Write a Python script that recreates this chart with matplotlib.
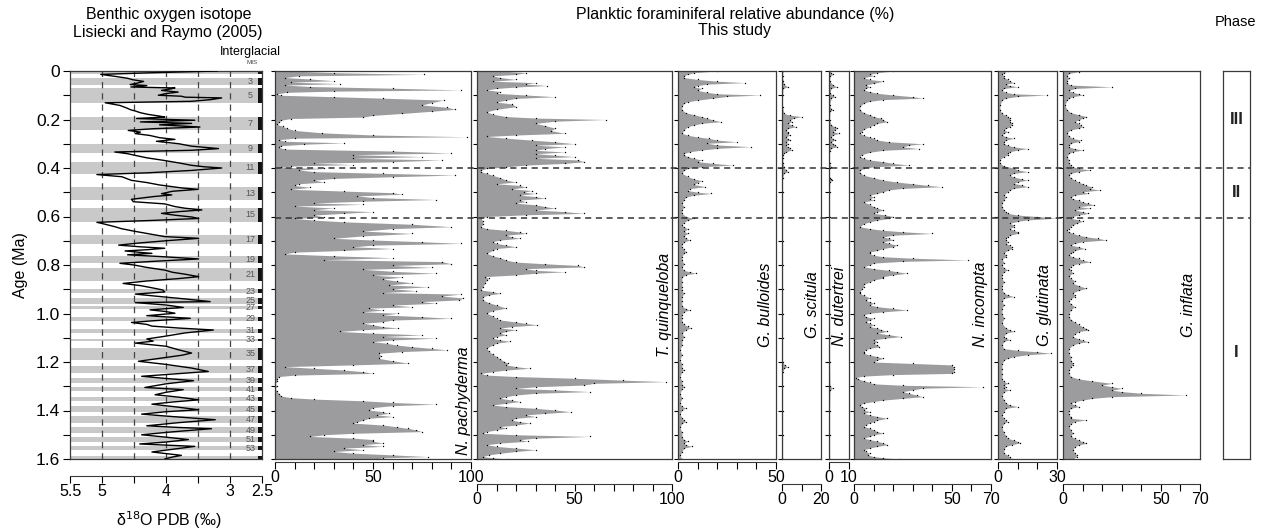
import numpy as np
import matplotlib.pyplot as plt
from matplotlib.lines import Line2D
from matplotlib.transforms import blended_transform_factory

plt.rcParams['font.family'] = ['Liberation Sans', 'DejaVu Sans']

# ---- data (age in Ma, value) ----
d18o = [
    [0.000, 3.20], [0.007, 4.20], [0.014, 5.02], [0.022, 4.80], [0.030, 4.60], [0.036, 4.52], [0.043, 4.35],
    [0.050, 4.45], [0.056, 4.56], [0.060, 4.30], [0.066, 4.55], [0.070, 3.86], [0.075, 3.95], [0.080, 4.07],
    [0.087, 3.81], [0.093, 4.00], [0.100, 4.12], [0.104, 3.76], [0.108, 3.70], [0.111, 3.13], [0.118, 3.30],
    [0.125, 3.60], [0.131, 4.95], [0.142, 4.72], [0.152, 4.62], [0.160, 4.55], [0.165, 4.48], [0.172, 4.40],
    [0.179, 4.28], [0.186, 4.10], [0.190, 4.02], [0.196, 4.46], [0.203, 3.55], [0.210, 4.40], [0.216, 3.60],
    [0.222, 4.10], [0.231, 3.47], [0.238, 4.20], [0.245, 4.59], [0.252, 4.40], [0.258, 4.48], [0.266, 4.25],
    [0.275, 4.10], [0.282, 3.86], [0.290, 4.15], [0.300, 3.80], [0.310, 3.60], [0.320, 3.18], [0.327, 3.60],
    [0.334, 4.80], [0.341, 4.60], [0.348, 4.48], [0.358, 4.30], [0.368, 4.05], [0.379, 3.80], [0.389, 3.60],
    [0.395, 3.40], [0.400, 3.13], [0.410, 3.60], [0.420, 4.30], [0.427, 5.08], [0.436, 4.69], [0.445, 4.60],
    [0.451, 4.54], [0.460, 4.30], [0.470, 4.10], [0.482, 3.76], [0.488, 3.50], [0.496, 3.90], [0.506, 4.07],
    [0.511, 3.91], [0.518, 4.20], [0.529, 4.54], [0.539, 4.51], [0.548, 4.02], [0.559, 3.86], [0.566, 3.70],
    [0.573, 3.44], [0.580, 3.80], [0.587, 4.07], [0.595, 3.85], [0.602, 3.60], [0.608, 3.49], [0.616, 4.20],
    [0.624, 5.08], [0.632, 4.95], [0.642, 4.80], [0.650, 4.70], [0.660, 4.51], [0.670, 4.30], [0.683, 4.02],
    [0.690, 3.49], [0.700, 4.00], [0.710, 4.45], [0.718, 4.74], [0.725, 4.40], [0.731, 4.02], [0.737, 4.30],
    [0.742, 4.64], [0.748, 4.40], [0.752, 4.22], [0.758, 4.60], [0.765, 4.10], [0.775, 3.49], [0.785, 4.20],
    [0.793, 4.72], [0.800, 4.50], [0.810, 4.30], [0.821, 4.02], [0.830, 3.90], [0.838, 3.70], [0.848, 3.49],
    [0.856, 3.80], [0.866, 4.30], [0.876, 4.67], [0.885, 4.40], [0.895, 4.20], [0.903, 4.05], [0.911, 4.02],
    [0.920, 4.48], [0.930, 4.10], [0.940, 3.70], [0.951, 3.31], [0.955, 4.48], [0.965, 4.00], [0.975, 3.73],
    [0.985, 4.25], [0.992, 4.00], [0.999, 3.86], [1.009, 4.30], [1.020, 3.62], [1.030, 4.20], [1.037, 4.54],
    [1.045, 4.30], [1.052, 4.22], [1.060, 3.80], [1.068, 3.26], [1.080, 3.70], [1.094, 4.02], [1.105, 4.30],
    [1.114, 4.20], [1.122, 4.48], [1.135, 4.00], [1.150, 3.80], [1.163, 3.60], [1.172, 3.75], [1.185, 4.10],
    [1.197, 4.43], [1.210, 4.00], [1.225, 3.60], [1.239, 3.34], [1.250, 3.90], [1.259, 4.38], [1.268, 4.00],
    [1.277, 3.57], [1.290, 4.00], [1.305, 4.33], [1.314, 3.73], [1.325, 4.00], [1.335, 4.17], [1.345, 3.80],
    [1.356, 3.49], [1.365, 3.90], [1.374, 4.22], [1.385, 3.85], [1.397, 3.49], [1.405, 4.00], [1.415, 4.38],
    [1.425, 3.90], [1.438, 3.23], [1.450, 3.80], [1.463, 4.30], [1.470, 3.80], [1.475, 3.29], [1.488, 3.90],
    [1.500, 4.38], [1.510, 4.00], [1.520, 3.65], [1.530, 4.00], [1.538, 4.41], [1.548, 3.55], [1.560, 3.90],
    [1.571, 4.22], [1.585, 3.76], [1.592, 3.90], [1.600, 4.02],
]

# interglacial marine isotope stages (odd numbers)
mis_num = [1, 3, 5, 7, 9, 11, 13, 15, 17, 19, 21, 23, 25, 27, 29, 31, 33, 35, 37, 39, 41, 43, 45, 47, 49, 51, 53, 55]
mis_start = [0.000, 0.029, 0.071, 0.191, 0.300, 0.374, 0.478, 0.563, 0.676, 0.761, 0.814, 0.900, 0.936, 0.970,
             1.014, 1.062, 1.104, 1.141, 1.215, 1.264, 1.304, 1.343, 1.383, 1.423, 1.469, 1.510, 1.548, 1.588]
mis_end = [0.014, 0.057, 0.130, 0.243, 0.337, 0.424, 0.533, 0.621, 0.712, 0.790, 0.866, 0.917, 0.959, 0.982,
           1.031, 1.081, 1.114, 1.190, 1.244, 1.286, 1.320, 1.362, 1.405, 1.452, 1.492, 1.530, 1.564, 1.612]

pachyderma = [
    [0.000, 8], [0.007, 30], [0.014, 76], [0.020, 12], [0.027, 5], [0.033, 18], [0.040, 30], [0.046, 8], [0.052, 33],
    [0.058, 5], [0.064, 18], [0.071, 60], [0.078, 95], [0.083, 30], [0.088, 6], [0.094, 1], [0.100, 3], [0.106, 30],
    [0.112, 55], [0.120, 86], [0.130, 80], [0.140, 75], [0.150, 88], [0.158, 92], [0.166, 80], [0.175, 65],
    [0.183, 50], [0.190, 45], [0.196, 8], [0.203, 3], [0.212, 2], [0.220, 1], [0.228, 4], [0.236, 6], [0.245, 10],
    [0.255, 24], [0.264, 50], [0.271, 98], [0.277, 10], [0.283, 2], [0.290, 5], [0.296, 35], [0.302, 15],
    [0.308, 3], [0.315, 2], [0.322, 5], [0.330, 60], [0.338, 90], [0.345, 40], [0.353, 75], [0.360, 40],
    [0.367, 85], [0.374, 60], [0.380, 20], [0.386, 40], [0.392, 8], [0.397, 3], [0.402, 25], [0.408, 12],
    [0.415, 20], [0.422, 55], [0.429, 92], [0.436, 60], [0.443, 30], [0.450, 20], [0.458, 25], [0.465, 12],
    [0.472, 10], [0.480, 18], [0.488, 8], [0.495, 35], [0.502, 60], [0.508, 65], [0.515, 42], [0.522, 50],
    [0.530, 82], [0.537, 45], [0.544, 20], [0.550, 45], [0.557, 10], [0.565, 30], [0.572, 20], [0.580, 50],
    [0.587, 35], [0.594, 20], [0.602, 25], [0.608, 10], [0.615, 20], [0.622, 35], [0.632, 70], [0.642, 90],
    [0.650, 60], [0.660, 45], [0.670, 70], [0.680, 45], [0.690, 30], [0.697, 50], [0.704, 75], [0.711, 95],
    [0.718, 50], [0.725, 40], [0.732, 60], [0.740, 35], [0.747, 10], [0.754, 5], [0.762, 30], [0.770, 60],
    [0.778, 25], [0.786, 85], [0.795, 90], [0.802, 60], [0.810, 80], [0.818, 45], [0.826, 60], [0.834, 82],
    [0.842, 50], [0.850, 65], [0.858, 55], [0.866, 62], [0.874, 70], [0.882, 58], [0.890, 78], [0.898, 60],
    [0.906, 72], [0.914, 55], [0.920, 95], [0.928, 85], [0.936, 96], [0.944, 94], [0.951, 75], [0.958, 82],
    [0.965, 60], [0.972, 70], [0.978, 48], [0.986, 55], [0.993, 45], [0.999, 63], [1.006, 55], [1.013, 75],
    [1.020, 90], [1.027, 60], [1.034, 55], [1.040, 45], [1.047, 50], [1.054, 55], [1.060, 63], [1.067, 45],
    [1.074, 33], [1.081, 50], [1.088, 75], [1.095, 55], [1.102, 82], [1.109, 60], [1.116, 50], [1.123, 57],
    [1.130, 62], [1.137, 70], [1.144, 80], [1.150, 88], [1.157, 65], [1.164, 53], [1.175, 54], [1.185, 53],
    [1.195, 60], [1.205, 68], [1.212, 40], [1.219, 5], [1.226, 20], [1.233, 35], [1.240, 45], [1.247, 50],
    [1.254, 10], [1.260, 2], [1.270, 1], [1.280, 1], [1.290, 0], [1.300, 1], [1.310, 0], [1.320, 1], [1.330, 2],
    [1.340, 3], [1.347, 8], [1.353, 20], [1.360, 45], [1.367, 60], [1.374, 82], [1.380, 60], [1.388, 50],
    [1.398, 48], [1.405, 55], [1.412, 58], [1.418, 52], [1.425, 60], [1.432, 48], [1.440, 45], [1.447, 42],
    [1.452, 40], [1.460, 55], [1.467, 62], [1.474, 68], [1.480, 72], [1.487, 75], [1.494, 40], [1.500, 25],
    [1.507, 18], [1.514, 40], [1.520, 50], [1.527, 50], [1.534, 55], [1.541, 45], [1.548, 55], [1.555, 35],
    [1.562, 45], [1.569, 30], [1.576, 40], [1.583, 60], [1.590, 78], [1.595, 55], [1.600, 52],
]

quinqueloba = [
    [0.000, 12], [0.007, 25], [0.014, 20], [0.020, 8], [0.027, 12], [0.035, 20], [0.042, 8], [0.048, 30],
    [0.054, 25], [0.060, 36], [0.066, 20], [0.072, 10], [0.078, 5], [0.085, 12], [0.092, 10], [0.099, 25],
    [0.106, 40], [0.113, 20], [0.120, 15], [0.128, 10], [0.136, 18], [0.147, 20], [0.158, 10], [0.168, 5],
    [0.178, 8], [0.188, 15], [0.194, 30], [0.200, 66], [0.207, 40], [0.216, 30], [0.225, 35], [0.236, 40],
    [0.246, 38], [0.257, 45], [0.264, 20], [0.270, 5], [0.277, 15], [0.285, 28], [0.292, 40], [0.300, 50],
    [0.306, 30], [0.313, 45], [0.320, 35], [0.327, 30], [0.334, 45], [0.341, 30], [0.347, 40], [0.353, 50],
    [0.360, 30], [0.367, 52], [0.374, 55], [0.381, 45], [0.388, 25], [0.395, 15], [0.402, 5], [0.409, 2],
    [0.415, 2], [0.422, 5], [0.430, 8], [0.440, 12], [0.450, 15], [0.458, 20], [0.465, 10], [0.472, 22],
    [0.479, 25], [0.486, 18], [0.493, 28], [0.500, 24], [0.505, 30], [0.512, 22], [0.518, 30], [0.525, 35],
    [0.532, 22], [0.539, 25], [0.545, 20], [0.552, 30], [0.559, 35], [0.566, 40], [0.573, 30], [0.580, 45],
    [0.587, 55], [0.593, 25], [0.600, 5], [0.607, 2], [0.620, 3], [0.632, 3], [0.642, 2], [0.650, 5],
    [0.657, 15], [0.664, 22], [0.670, 25], [0.677, 15], [0.684, 18], [0.690, 22], [0.697, 12], [0.704, 8],
    [0.711, 10], [0.718, 15], [0.725, 20], [0.732, 10], [0.740, 8], [0.752, 5], [0.762, 8], [0.770, 12],
    [0.780, 15], [0.788, 20], [0.795, 35], [0.802, 52], [0.808, 55], [0.815, 25], [0.822, 30], [0.828, 45],
    [0.834, 30], [0.841, 20], [0.848, 4], [0.855, 6], [0.862, 5], [0.875, 4], [0.890, 3], [0.903, 2],
    [0.910, 8], [0.917, 12], [0.924, 6], [0.931, 3], [0.944, 3], [0.955, 6], [0.965, 10], [0.978, 15],
    [0.988, 8], [0.999, 5], [1.010, 8], [1.020, 10], [1.027, 12], [1.035, 20], [1.041, 25], [1.047, 31],
    [1.054, 18], [1.060, 12], [1.067, 20], [1.074, 15], [1.081, 12], [1.088, 15], [1.095, 10], [1.102, 8],
    [1.109, 12], [1.115, 17], [1.122, 10], [1.130, 8], [1.143, 5], [1.155, 6], [1.167, 8], [1.178, 10],
    [1.188, 12], [1.198, 14], [1.205, 16], [1.212, 15], [1.219, 20], [1.226, 27], [1.233, 15], [1.240, 8],
    [1.247, 2], [1.254, 5], [1.260, 20], [1.267, 50], [1.275, 75], [1.281, 97], [1.288, 60], [1.295, 55],
    [1.302, 30], [1.309, 20], [1.315, 40], [1.322, 58], [1.329, 30], [1.336, 20], [1.343, 15], [1.350, 12],
    [1.357, 18], [1.363, 22], [1.370, 15], [1.377, 8], [1.384, 15], [1.391, 30], [1.398, 40], [1.405, 48],
    [1.412, 35], [1.418, 25], [1.425, 30], [1.432, 20], [1.440, 18], [1.446, 22], [1.452, 27], [1.460, 20],
    [1.466, 12], [1.473, 15], [1.480, 10], [1.487, 5], [1.494, 3], [1.500, 20], [1.507, 58], [1.514, 30],
    [1.520, 22], [1.527, 26], [1.534, 12], [1.541, 5], [1.548, 10], [1.555, 20], [1.562, 30], [1.569, 20],
    [1.576, 12], [1.583, 6], [1.590, 3], [1.595, 8], [1.600, 16],
]

bulloides = [
    [0.000, 20], [0.007, 8], [0.014, 5], [0.020, 3], [0.027, 3], [0.035, 10], [0.042, 20], [0.048, 34],
    [0.054, 15], [0.060, 10], [0.065, 8], [0.072, 12], [0.080, 10], [0.088, 15], [0.094, 20], [0.099, 42],
    [0.105, 25], [0.112, 18], [0.120, 10], [0.127, 5], [0.133, 3], [0.145, 2], [0.160, 2], [0.172, 4],
    [0.180, 8], [0.188, 12], [0.195, 15], [0.202, 18], [0.209, 22], [0.216, 12], [0.223, 8], [0.230, 5],
    [0.243, 3], [0.257, 2], [0.265, 5], [0.272, 10], [0.278, 16], [0.285, 20], [0.292, 30], [0.298, 15],
    [0.305, 20], [0.312, 37], [0.319, 20], [0.326, 12], [0.333, 6], [0.340, 3], [0.346, 3], [0.353, 5],
    [0.360, 8], [0.367, 12], [0.374, 10], [0.381, 18], [0.388, 28], [0.395, 12], [0.402, 5], [0.410, 3],
    [0.422, 2], [0.435, 5], [0.445, 8], [0.452, 12], [0.460, 10], [0.468, 8], [0.477, 14], [0.485, 6],
    [0.493, 5], [0.500, 10], [0.505, 17], [0.512, 8], [0.520, 4], [0.532, 3], [0.545, 2], [0.560, 3],
    [0.573, 2], [0.587, 2], [0.600, 4], [0.608, 8], [0.615, 5], [0.625, 3], [0.635, 2], [0.642, 3],
    [0.652, 5], [0.660, 3], [0.670, 5], [0.680, 3], [0.690, 4], [0.697, 6], [0.705, 3], [0.715, 2],
    [0.725, 2], [0.735, 3], [0.745, 4], [0.752, 3], [0.765, 2], [0.780, 2], [0.795, 3], [0.810, 2],
    [0.822, 3], [0.828, 6], [0.834, 9], [0.840, 4], [0.850, 2], [0.870, 2], [0.890, 2], [0.905, 2],
    [0.917, 3], [0.930, 2], [0.950, 2], [0.970, 2], [0.980, 4], [0.986, 6], [0.992, 3], [1.005, 2],
    [1.020, 2], [1.035, 2], [1.045, 3], [1.053, 5], [1.060, 6.5], [1.067, 4], [1.080, 2], [1.095, 3],
    [1.110, 2], [1.130, 2], [1.150, 1], [1.170, 2], [1.190, 1], [1.210, 2], [1.226, 2], [1.233, 3],
    [1.240, 2], [1.260, 1], [1.280, 2], [1.295, 2], [1.302, 3], [1.310, 2], [1.330, 1], [1.350, 2],
    [1.370, 1], [1.383, 2], [1.390, 4], [1.397, 2], [1.415, 1], [1.430, 2], [1.440, 3], [1.446, 4],
    [1.452, 2], [1.470, 1], [1.490, 2], [1.510, 2], [1.520, 3], [1.527, 5], [1.534, 3], [1.541, 4],
    [1.548, 7], [1.555, 3], [1.570, 2], [1.585, 1], [1.600, 2],
]

scitula = [
    [0.000, 0.5], [0.020, 0.3], [0.040, 0.5], [0.055, 1], [0.065, 3], [0.072, 0.5], [0.100, 0.3], [0.150, 0.3],
    [0.175, 1], [0.182, 4], [0.188, 10], [0.195, 6], [0.202, 4], [0.209, 5], [0.216, 3], [0.223, 5], [0.230, 7],
    [0.237, 3], [0.245, 2], [0.250, 3], [0.257, 3], [0.265, 4], [0.272, 2], [0.280, 3], [0.285, 4], [0.292, 2],
    [0.300, 3], [0.306, 2], [0.312, 3], [0.319, 4], [0.326, 5], [0.333, 2], [0.340, 1], [0.346, 0.5],
    [0.360, 0.3], [0.380, 0.5], [0.395, 1], [0.408, 2], [0.415, 3], [0.422, 1], [0.440, 0.3], [0.500, 0.3],
    [0.600, 0.3], [0.700, 0.3], [0.800, 0.3], [0.900, 0.3], [1.000, 0.3], [1.100, 0.3], [1.200, 0.3],
    [1.214, 1.5], [1.220, 3], [1.226, 1], [1.240, 0.3], [1.300, 0.3], [1.400, 0.3], [1.500, 0.3], [1.600, 0.3],
]

dutertrei = [
    [0.000, 0.5], [0.007, 1], [0.014, 2], [0.020, 0.5], [0.040, 0.3], [0.058, 2], [0.065, 4], [0.072, 1],
    [0.090, 0.5], [0.100, 2], [0.106, 3], [0.112, 1], [0.140, 0.3], [0.155, 1], [0.160, 2], [0.166, 0.5],
    [0.200, 0.3], [0.222, 1], [0.230, 3], [0.236, 4], [0.243, 3], [0.250, 2], [0.257, 5], [0.264, 2],
    [0.272, 1], [0.280, 2], [0.285, 3], [0.292, 1], [0.300, 2], [0.306, 3], [0.312, 4], [0.319, 1],
    [0.330, 0.3], [0.380, 0.3], [0.395, 1], [0.400, 0.3], [0.440, 0.3], [0.445, 1], [0.450, 1.5], [0.456, 0.5],
    [0.500, 0.3], [0.600, 0.3], [0.700, 0.3], [0.800, 0.3], [0.900, 0.3], [1.000, 0.3], [1.100, 0.3],
    [1.200, 0.3], [1.300, 0.5], [1.308, 2], [1.315, 0.5], [1.400, 0.3], [1.500, 0.3], [1.600, 0.3],
]

incompta = [
    [0.000, 20], [0.007, 12], [0.014, 8], [0.020, 10], [0.027, 5], [0.035, 8], [0.042, 15], [0.051, 10],
    [0.058, 6], [0.065, 8], [0.072, 6], [0.078, 5], [0.085, 8], [0.092, 12], [0.099, 20], [0.106, 30],
    [0.112, 35], [0.118, 15], [0.125, 8], [0.133, 5], [0.145, 3], [0.160, 3], [0.172, 5], [0.180, 8],
    [0.188, 10], [0.195, 14], [0.202, 15], [0.209, 17], [0.216, 12], [0.223, 10], [0.230, 8], [0.240, 5],
    [0.250, 4], [0.257, 3], [0.265, 5], [0.272, 8], [0.278, 10], [0.285, 12], [0.292, 18], [0.300, 35],
    [0.306, 28], [0.313, 25], [0.320, 33], [0.327, 15], [0.335, 8], [0.345, 4], [0.353, 3], [0.360, 5],
    [0.367, 8], [0.374, 15], [0.381, 20], [0.388, 28], [0.395, 10], [0.402, 5], [0.410, 3], [0.420, 3],
    [0.430, 5], [0.440, 10], [0.450, 15], [0.458, 22], [0.465, 30], [0.472, 38], [0.477, 45], [0.484, 25],
    [0.490, 18], [0.498, 15], [0.505, 12], [0.512, 8], [0.520, 10], [0.527, 8], [0.532, 10], [0.540, 5],
    [0.550, 8], [0.559, 10], [0.566, 12], [0.573, 15], [0.580, 12], [0.587, 10], [0.594, 16], [0.600, 20],
    [0.608, 18], [0.615, 12], [0.622, 8], [0.630, 5], [0.642, 3], [0.650, 8], [0.657, 15], [0.663, 25],
    [0.670, 40], [0.677, 20], [0.684, 15], [0.690, 18], [0.697, 20], [0.704, 15], [0.711, 18], [0.718, 22],
    [0.725, 20], [0.732, 15], [0.740, 12], [0.746, 8], [0.752, 8], [0.760, 10], [0.766, 15], [0.772, 30],
    [0.779, 58], [0.785, 25], [0.792, 10], [0.800, 8], [0.807, 5], [0.815, 10], [0.822, 18], [0.828, 22],
    [0.834, 27], [0.841, 20], [0.848, 15], [0.854, 15], [0.862, 10], [0.870, 8], [0.880, 5], [0.889, 5],
    [0.900, 4], [0.910, 3], [0.917, 3], [0.925, 5], [0.935, 8], [0.945, 6], [0.952, 8], [0.958, 10],
    [0.965, 8], [0.972, 12], [0.979, 20], [0.986, 27], [0.993, 15], [0.999, 8], [1.006, 5], [1.013, 6],
    [1.020, 10], [1.027, 8], [1.034, 6], [1.040, 8], [1.047, 10], [1.054, 8], [1.060, 12], [1.067, 14],
    [1.074, 17], [1.081, 12], [1.088, 18], [1.095, 24], [1.102, 16], [1.109, 10], [1.116, 12], [1.123, 10],
    [1.130, 12], [1.137, 13], [1.144, 8], [1.150, 6], [1.157, 5], [1.164, 5], [1.171, 8], [1.178, 12],
    [1.185, 15], [1.192, 12], [1.200, 10], [1.206, 30], [1.212, 50], [1.220, 51], [1.230, 51], [1.240, 51],
    [1.247, 50], [1.252, 20], [1.258, 5], [1.264, 1], [1.270, 2], [1.277, 5], [1.284, 8], [1.290, 10],
    [1.296, 25], [1.302, 66], [1.308, 35], [1.315, 30], [1.322, 25], [1.329, 28], [1.336, 32], [1.343, 35],
    [1.350, 25], [1.357, 15], [1.363, 10], [1.370, 5], [1.377, 3], [1.384, 4], [1.391, 6], [1.398, 5],
    [1.405, 8], [1.412, 5], [1.418, 8], [1.425, 12], [1.432, 17], [1.440, 12], [1.446, 10], [1.452, 8],
    [1.459, 6], [1.466, 5], [1.473, 8], [1.480, 10], [1.487, 12], [1.494, 15], [1.500, 10], [1.507, 8],
    [1.514, 5], [1.520, 8], [1.527, 12], [1.534, 15], [1.541, 17], [1.548, 12], [1.555, 8], [1.562, 5],
    [1.569, 6], [1.576, 8], [1.583, 7], [1.590, 10], [1.595, 15], [1.600, 23],
]

glutinata = [
    [0.000, 5], [0.007, 3], [0.014, 2], [0.020, 3], [0.027, 3], [0.035, 5], [0.042, 6], [0.048, 8], [0.055, 4],
    [0.060, 6], [0.065, 10], [0.072, 3], [0.080, 2], [0.088, 4], [0.094, 8], [0.099, 25], [0.105, 10],
    [0.112, 4], [0.120, 2], [0.140, 1], [0.160, 1], [0.175, 2], [0.182, 4], [0.188, 5], [0.195, 6], [0.202, 6],
    [0.209, 6], [0.216, 7], [0.222, 7], [0.230, 6], [0.237, 4], [0.244, 3], [0.250, 5], [0.257, 3], [0.264, 2],
    [0.271, 4], [0.278, 8], [0.285, 4], [0.292, 3], [0.300, 3], [0.306, 5], [0.313, 8], [0.320, 15],
    [0.326, 10], [0.333, 6], [0.340, 5], [0.346, 5], [0.353, 3], [0.365, 1], [0.380, 1], [0.392, 3], [0.400, 8],
    [0.408, 10], [0.415, 15], [0.422, 8], [0.430, 6], [0.437, 8], [0.445, 12], [0.450, 15], [0.457, 10],
    [0.464, 8], [0.470, 12], [0.477, 15], [0.484, 8], [0.491, 6], [0.498, 5], [0.510, 3], [0.520, 4],
    [0.532, 3], [0.545, 2], [0.560, 2], [0.573, 3], [0.580, 4], [0.587, 5], [0.594, 10], [0.600, 20],
    [0.607, 30], [0.614, 15], [0.620, 10], [0.628, 6], [0.635, 8], [0.642, 8], [0.650, 6], [0.657, 8],
    [0.663, 10], [0.670, 10], [0.677, 6], [0.684, 5], [0.690, 4], [0.697, 4], [0.705, 5], [0.712, 4],
    [0.718, 6], [0.725, 7], [0.732, 7], [0.740, 5], [0.750, 3], [0.760, 4], [0.766, 4], [0.775, 2], [0.790, 3],
    [0.800, 2], [0.812, 3], [0.820, 5], [0.828, 3], [0.840, 2], [0.855, 2], [0.870, 3], [0.885, 2], [0.900, 2],
    [0.915, 3], [0.923, 5], [0.930, 8], [0.937, 3], [0.950, 2], [0.965, 3], [0.980, 2], [1.000, 2], [1.020, 3],
    [1.040, 2], [1.060, 4], [1.067, 6], [1.074, 8], [1.081, 4], [1.095, 3], [1.102, 4], [1.108, 6], [1.115, 3],
    [1.130, 2], [1.145, 3], [1.152, 10], [1.158, 20], [1.164, 27], [1.170, 15], [1.178, 8], [1.185, 5],
    [1.192, 3], [1.210, 2], [1.230, 2], [1.250, 2], [1.270, 2], [1.280, 3], [1.288, 5], [1.295, 3], [1.302, 4],
    [1.309, 3], [1.315, 6], [1.322, 3], [1.340, 2], [1.355, 3], [1.370, 4], [1.377, 6], [1.384, 10], [1.391, 4],
    [1.405, 3], [1.420, 2], [1.432, 3], [1.440, 4], [1.446, 5], [1.452, 3], [1.470, 2], [1.490, 3], [1.505, 4],
    [1.515, 5], [1.522, 8], [1.528, 10], [1.534, 11], [1.541, 7], [1.548, 4], [1.560, 3], [1.576, 3],
    [1.585, 5], [1.592, 6], [1.600, 7],
]

inflata = [
    [0.000, 3], [0.003, 8], [0.010, 3], [0.020, 2], [0.030, 3], [0.040, 2], [0.050, 2], [0.058, 4], [0.065, 25],
    [0.072, 6], [0.080, 3], [0.088, 5], [0.094, 8], [0.099, 10], [0.106, 5], [0.113, 3], [0.120, 2], [0.140, 1],
    [0.160, 2], [0.172, 4], [0.180, 8], [0.188, 12], [0.195, 10], [0.202, 8], [0.209, 6], [0.216, 8], [0.223, 9],
    [0.230, 10], [0.236, 8], [0.243, 4], [0.255, 2], [0.268, 3], [0.278, 5], [0.285, 9], [0.291, 8], [0.298, 4],
    [0.306, 3], [0.313, 3], [0.320, 6], [0.326, 10], [0.333, 5], [0.340, 3], [0.353, 2], [0.367, 3], [0.380, 3],
    [0.388, 4], [0.395, 5], [0.402, 8], [0.408, 14], [0.415, 8], [0.422, 4], [0.430, 3], [0.440, 4], [0.450, 6],
    [0.458, 8], [0.465, 10], [0.472, 12], [0.478, 15], [0.485, 14], [0.491, 19], [0.498, 10], [0.505, 13],
    [0.512, 6], [0.520, 4], [0.527, 5], [0.532, 8], [0.540, 10], [0.546, 13], [0.553, 16], [0.559, 8],
    [0.566, 14], [0.573, 6], [0.580, 10], [0.587, 13], [0.594, 8], [0.600, 5], [0.607, 4], [0.614, 8],
    [0.620, 10], [0.628, 7], [0.635, 5], [0.642, 4], [0.650, 3], [0.656, 2], [0.663, 3], [0.670, 5], [0.677, 8],
    [0.684, 12], [0.690, 18], [0.697, 22], [0.704, 10], [0.711, 6], [0.718, 4], [0.725, 8], [0.732, 11],
    [0.740, 6], [0.746, 5], [0.752, 4], [0.760, 3], [0.766, 5], [0.773, 8], [0.780, 10], [0.787, 14], [0.794, 8],
    [0.800, 5], [0.808, 4], [0.815, 3], [0.822, 4], [0.834, 5], [0.845, 3], [0.855, 4], [0.865, 6], [0.875, 5],
    [0.885, 8], [0.896, 12], [0.905, 8], [0.915, 5], [0.925, 6], [0.930, 6], [0.940, 4], [0.950, 3], [0.960, 4],
    [0.972, 6], [0.985, 4], [1.000, 3], [1.013, 3], [1.025, 4], [1.035, 6], [1.045, 8], [1.055, 10], [1.062, 12],
    [1.068, 13], [1.075, 8], [1.085, 6], [1.095, 5], [1.105, 8], [1.110, 10], [1.116, 13], [1.122, 8],
    [1.130, 5], [1.145, 3], [1.164, 3], [1.180, 4], [1.195, 4], [1.205, 5], [1.212, 5], [1.220, 4], [1.235, 3],
    [1.247, 3], [1.260, 4], [1.270, 8], [1.278, 15], [1.288, 25], [1.295, 20], [1.302, 25], [1.309, 30],
    [1.316, 25], [1.322, 30], [1.329, 40], [1.336, 63], [1.343, 25], [1.350, 15], [1.357, 10], [1.364, 6],
    [1.370, 4], [1.377, 6], [1.384, 8], [1.391, 4], [1.400, 3], [1.415, 3], [1.425, 4], [1.432, 4], [1.439, 12],
    [1.446, 6], [1.455, 4], [1.465, 3], [1.480, 4], [1.494, 5], [1.505, 4], [1.515, 6], [1.522, 8], [1.528, 10],
    [1.535, 12], [1.542, 8], [1.550, 6], [1.563, 5], [1.575, 6], [1.585, 7], [1.590, 7], [1.600, 5],
]

phase_names = ['III', 'II', 'I']
phase_mid = [0.20, 0.50, 1.16]
phase_bounds = [0.40, 0.607]

# ---- layout (pixels of the 1265 x 529 picture) ----
W, H = 1265, 529
TOP, BOT = 71, 459
fill_c = '#9c9c9f'
line_c = '#3a3a3a'

fig = plt.figure(figsize=(W / 100, H / 100), dpi=100)


def box(x0, x1):
    return [x0 / W, 1 - BOT / H, (x1 - x0) / W, (BOT - TOP) / H]


def px(x, y):
    return x / W, 1 - y / H


# benthic panel
ax0 = fig.add_axes(box(70, 262))
age, val = np.array(d18o).T
for n, a, b in zip(mis_num, mis_start, mis_end):
    ax0.axhspan(a, b, color='#c9c9c9', lw=0, zorder=0)
    ax0.fill_betweenx([a, min(b, 1.6)], 2.555, 2.5, color='#111111', lw=0, zorder=1)
    if 3 <= n <= 53:
        ax0.text(2.68, (a + b) / 2, str(n), fontsize=6.5, color='#555555', ha='center', va='center')
for x in [5, 4.5, 4, 3.5, 3]:
    ax0.axvline(x, color='#444444', lw=0.9, ls=(0, (5, 4)), zorder=1)
ax0.plot(val, age, color='black', lw=1.0, zorder=3)
ax0.set_xlim(5.5, 2.5)
ax0.set_ylim(1.6, 0)
ax0.set_yticks([0, 0.2, 0.4, 0.6, 0.8, 1.0, 1.2, 1.4, 1.6],
               ['0', '0.2', '0.4', '0.6', '0.8', '1.0', '1.2', '1.4', '1.6'])
ax0.set_yticks([0.1, 0.3, 0.5, 0.7, 0.9, 1.1, 1.3, 1.5], minor=True)
ax0.tick_params(axis='y', which='both', direction='out', length=5, width=0.8, labelsize=12.5, pad=2)
ax0.tick_params(axis='x', bottom=False, labelbottom=False)
ax0.set_ylabel('Age (Ma)', fontsize=11.5, labelpad=6)
for s in ax0.spines.values():
    s.set_color(line_c)
    s.set_linewidth(0.9)
sec0 = ax0.secondary_xaxis(-17 / 388)
sec0.set_xticks([5.5, 5, 4.5, 4, 3.5, 3, 2.5], ['5.5', '5', '', '4', '', '3', '2.5'])
sec0.tick_params(direction='out', length=5, width=0.8, labelsize=11.5, pad=1)
sec0.spines['bottom'].set_color(line_c)
fig.text(*px(169, 520), 'δ$^{18}$O PDB (‰)', fontsize=11.5, ha='center', va='center')

# species panels: data, x max, left px, right px, bottom axis offset, labelled ticks, label position
panels = [
    (pachyderma, 100, 275, 471, 3, [0, 50, 100], 'N. pachyderma', 0.96, 0.01),
    (quinqueloba, 100, 477, 672, 25, [0, 50, 100], 'T. quinqueloba', 0.964, 0.263),
    (bulloides, 50, 678, 776, 3, [0, 50], 'G. bulloides', 0.888, 0.289),
    (scitula, 20, 782, 821, 25, [0, 20], 'G. scitula', 0.77, 0.312),
    (dutertrei, 10, 829, 849, 3, [0, 10], 'N. dutertrei', 0.55, 0.291),
    (incompta, 70, 854, 991, 25, [0, 50, 70], 'N. incompta', 0.92, 0.289),
    (glutinata, 30, 998, 1057, 3, [0, 30], 'G. glutinata', 0.78, 0.291),
    (inflata, 70, 1063, 1200, 25, [0, 50, 70], 'G. inflata', 0.916, 0.314),
]

first = None
for data, xmax, x0, x1, off, lab, name, tx, ty in panels:
    ax = fig.add_axes(box(x0, x1))
    if first is None:
        first = ax
    age, val = np.array(data).T
    ax.fill_betweenx(age, 0, val, color=fill_c, lw=0)
    ax.plot(val, age, ls='none', marker='o', ms=1.0, color='black', mew=0)
    ax.plot(np.zeros_like(age), age, color='#222222', lw=1.2)
    ax.set_xlim(0, xmax)
    ax.set_ylim(1.6, 0)
    ax.set_yticks(np.arange(0, 1.61, 0.1))
    ax.tick_params(axis='y', direction='out', length=3, width=0.8, labelleft=False)
    ax.tick_params(axis='x', bottom=False, labelbottom=False)
    for s in ax.spines.values():
        s.set_color(line_c)
        s.set_linewidth(0.9)
    ax.text(tx, ty, name, rotation=90, style='italic', fontsize=11.5, ha='center', va='bottom',
            transform=ax.transAxes)
    sec = ax.secondary_xaxis(-off / 388)
    ticks = list(range(0, xmax + 1, 10))
    sec.set_xticks(ticks, [str(t) if t in lab else '' for t in ticks])
    sec.tick_params(direction='out', length=5, width=0.8, labelsize=11.5, pad=1)
    sec.spines['bottom'].set_color(line_c)

# phase column
axp = fig.add_axes(box(1223, 1250))
axp.set_xlim(0, 1)
axp.set_ylim(1.6, 0)
axp.set_xticks([])
axp.set_yticks([])
for s in axp.spines.values():
    s.set_color(line_c)
    s.set_linewidth(0.9)
for name, m in zip(phase_names, phase_mid):
    axp.text(0.5, m, name, ha='center', va='center', fontsize=12, fontweight='bold', color='#222222')

# phase boundaries across the planktic panels
tr = blended_transform_factory(fig.transFigure, first.transData)
for b in phase_bounds:
    fig.add_artist(Line2D([275 / W, 1250 / W], [b, b], transform=tr, color='#333333', lw=1.1,
                          ls=(0, (4, 3))))

# titles
fig.text(*px(169, 15), 'Benthic oxygen isotope', fontsize=11.5, ha='center', va='center')
fig.text(*px(168, 33), 'Lisiecki and Raymo (2005)', fontsize=11.5, ha='center', va='center')
fig.text(*px(281, 52), 'Interglacial', fontsize=9, ha='right', va='center')
fig.text(*px(252, 63), 'MIS', fontsize=4.5, ha='center', va='center', color='#444444')
fig.text(*px(735, 15), 'Planktic foraminiferal relative abundance (%)', fontsize=11.5, ha='center', va='center')
fig.text(*px(735, 31), 'This study', fontsize=11.5, ha='center', va='center')
fig.text(*px(1236, 22), 'Phase', fontsize=10.5, ha='center', va='center')

fig.savefig('out.png', dpi=100)
